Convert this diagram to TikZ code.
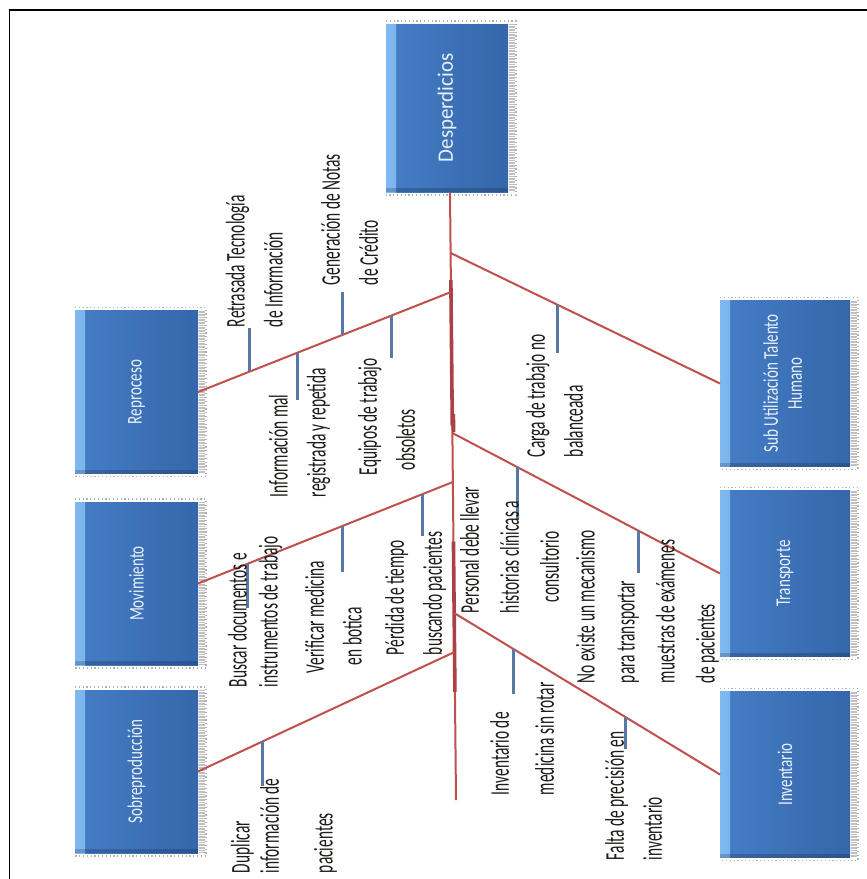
\documentclass[tikz,border=0pt]{standalone}
\usepackage{fontspec}
\usepackage{graphicx}
\setmainfont{Carlito}
\newfontfamily\labfont[FakeStretch=0.57]{Carlito}
\newfontfamily\boxfont[FakeStretch=0.72]{Carlito}
\newfontfamily\headfont[FakeStretch=0.95]{Carlito}
\usetikzlibrary{calc}

\definecolor{bone}{RGB}{192,80,77}
\definecolor{bonedark}{RGB}{172,64,70}
\definecolor{twig}{RGB}{88,122,162}
\definecolor{boxbodyL}{RGB}{70,126,198}
\definecolor{boxbodyR}{RGB}{52,102,170}
\definecolor{boxlight}{RGB}{128,184,240}
\definecolor{boxtext}{RGB}{232,240,250}
\definecolor{labink}{RGB}{28,28,24}

% dotted soft edge drawn round a cause box
\newcommand\boxrim[1]{%
  \draw[rimdots] ([yshift=3pt]#1.north west) -- ([xshift=8pt,yshift=3pt]#1.north east)
     -- ([xshift=8pt,yshift=-3pt]#1.south east) -- ([yshift=-3pt]#1.south west);
  \draw[rimband] ([xshift=4pt]#1.north east) -- ([xshift=4pt]#1.south east);
}

\tikzset{
  x=1pt, y=-1pt,
  wastebox/.style={inner sep=0pt, outer sep=0pt, text=boxtext,
    left color=boxbodyL, right color=boxbodyR,
    path picture={
      \shade[left color=boxlight, right color=boxbodyL]
        (path picture bounding box.north west) rectangle ([xshift=10pt]path picture bounding box.south west);
      \fill[black, opacity=0.18]
        (path picture bounding box.south west) rectangle ([yshift=4pt]path picture bounding box.south east);
    }},
  leftbox/.style={wastebox, minimum width=123pt, minimum height=163pt},
  rightbox/.style={wastebox, minimum width=130pt, minimum height=166pt},
  rimdots/.style={draw=gray!60, line width=1.1pt, dash pattern=on 1.2pt off 2.6pt},
  rimband/.style={draw=gray!50, line width=6pt, dash pattern=on 0.7pt off 0.9pt},
  bonel/.style={draw=bone, line width=2pt},
  twigl/.style={draw=twig, line width=3pt},
  lab/.style={rotate=90, anchor=north west, inner sep=0pt, outer sep=0pt,
    align=left, text=labink, font=\labfont\fontsize{27}{38}\selectfont},
}

\begin{document}
\begin{tikzpicture}
\fill[white] (0,0) rectangle (867,879);
\useasboundingbox (0,0) rectangle (867,879);

% outer frame
\draw[line width=1.2pt] (9.5,879) -- (9.5,10) -- (867,10);

% effect box
\node[wastebox, minimum width=122pt, minimum height=168pt] (title) at (447,108)
  {\rotatebox{90}{\headfont\fontsize{22}{26}\selectfont Desperdicios}};
\boxrim{title}

% cause boxes
\node[leftbox] (rep) at (136.5,392) {\rotatebox{90}{\boxfont\fontsize{21}{25}\selectfont Reproceso}};
\node[leftbox] (mov) at (136.5,583.5) {\rotatebox{90}{\boxfont\fontsize{21}{25}\selectfont Movimiento}};
\node[leftbox] (sob) at (136.5,771.5) {\rotatebox{90}{\boxfont\fontsize{21}{25}\selectfont Sobreproducción}};
\node[rightbox] (sub) at (785,383.5) {\rotatebox{90}{\boxfont\fontsize{21}{24}\selectfont
  \begin{tabular}{@{}c@{}}Sub Utilización Talento\\Humano\end{tabular}}};
\node[rightbox] (tra) at (785,573.5) {\rotatebox{90}{\boxfont\fontsize{21}{25}\selectfont Transporte}};
\node[rightbox] (inv) at (785,774.5) {\rotatebox{90}{\boxfont\fontsize{21}{25}\selectfont Inventario}};
\foreach \b in {rep,mov,sob,sub,tra,inv}{\boxrim{\b}}

% spine and its junctions
\coordinate (head) at ($(title.south)+(3,0)$);
\coordinate (tail) at (456,800);
\coordinate (j1) at ($(head)!0.1003!(tail)$);
\coordinate (j2) at ($(head)!0.1645!(tail)$);
\coordinate (j3) at ($(head)!0.3964!(tail)$);
\coordinate (j4) at ($(head)!0.4770!(tail)$);
\coordinate (j5) at ($(head)!0.6924!(tail)$);
\coordinate (j6) at ($(head)!0.7566!(tail)$);

\draw[bonel] (head) -- (tail);
\draw[draw=bonedark, line width=3.6pt] ($(head)!0.145!(tail)$) -- ($(head)!0.385!(tail)$);
\draw[draw=bonedark, line width=3.6pt] ([xshift=1.2pt]$(head)!0.365!(tail)$) -- ([xshift=1.2pt]$(head)!0.395!(tail)$);
\draw[draw=bonedark, line width=3.6pt] ($(head)!0.575!(tail)$) -- ($(head)!0.822!(tail)$);

% branches
\draw[bonel] (rep.east) -- (j2);
\draw[bonel] (mov.east) -- (j4);
\draw[bonel] (sob.east) -- (j6);
\draw[bonel] (j1) -- (sub.west);
\draw[bonel] (j3) -- (tra.west);
\draw[bonel] (j5) -- (inv.west);

% sub-cause ticks
\coordinate (r1) at ($(rep.east)!0.2055!(j2)$);
\coordinate (r2) at ($(rep.east)!0.395!(j2)$);
\coordinate (r3) at ($(rep.east)!0.573!(j2)$);
\coordinate (r4) at ($(rep.east)!0.763!(j2)$);
\coordinate (m1) at ($(mov.east)!0.196!(j4)$);
\coordinate (m2) at ($(mov.east)!0.565!(j4)$);
\coordinate (m3) at ($(mov.east)!0.879!(j4)$);
\coordinate (s1) at ($(sob.east)!0.253!(j6)$);
\coordinate (u1) at ($(j1)!0.395!(sub.west)$);
\coordinate (t1) at ($(j3)!0.245!(tra.west)$);
\coordinate (t2) at ($(j3)!0.694!(tra.west)$);
\coordinate (i1) at ($(j5)!0.225!(inv.west)$);
\coordinate (i2) at ($(j5)!0.643!(inv.west)$);

\draw[twigl] (r1) -- ++(0,-43);
\draw[twigl] (r2) -- ++(0,47);
\draw[twigl] (r3) -- ++(0,-43);
\draw[twigl] (r4) -- ++(0,42);
\draw[twigl] (m1) -- ++(0,44);
\draw[twigl] (m2) -- ++(0,46);
\draw[twigl] (m3) -- ++(0,42);
\draw[twigl] (s1) -- ++(0,45);
\draw[twigl] (u1) -- ++(0,48);
\draw[twigl] (t1) -- ++(0,53);
\draw[twigl] (t2) -- ++(0,42);
\draw[twigl] (i1) -- ++(0,45);
\draw[twigl] (i2) -- ++(0,32);

% sub-cause labels
\node[lab] (l1) at (226,327) {Retrasada Tecnología\\de Información};
\node[lab] (l2) at (321,285) {Generación de Notas\\de Crédito};
\node[lab] (l3) at (269,497) {Información mal\\registrada y repetida};
\node[lab] (l4) at (358,475) {Equipos de trabajo\\\hspace*{5pt}obsoletos};
\node[lab, font=\labfont\fontsize{27}{31}\selectfont] (l5) at (228,687) {Buscar documentos e\\instrumentos de trabajo};
\node[lab] (l6) at (305,673) {Verificar medicina\\\hspace*{8pt}en botica};
\node[lab] (l7) at (385,655) {Pérdida de tiempo\\buscando pacientes};
\node[lab, font=\labfont\fontsize{27}{29}\selectfont] (l8) at (231,873) {Duplicar\\información de\\[25pt]pacientes};
\node[lab] (l9) at (526,457) {Carga de trabajo no\\balanceada};
\node[lab, font=\labfont\fontsize{27}{40}\selectfont] (l10) at (460,613) {Personal debe llevar\\historias clínicas a\\\hspace*{11pt}consultorio};
\node[lab, font=\labfont\fontsize{27}{40}\selectfont] (l11) at (576,683) {No existe un mecanismo\\para transportar\\muestras de exámenes\\de pacientes};
\node[lab, font=\labfont\fontsize{27}{45}\selectfont] (l12) at (490,795) {Inventario de\\medicina sin rotar};
\node[lab] (l13) at (605,860) {Falta de precisión en\\inventario};
\end{tikzpicture}
\end{document}
